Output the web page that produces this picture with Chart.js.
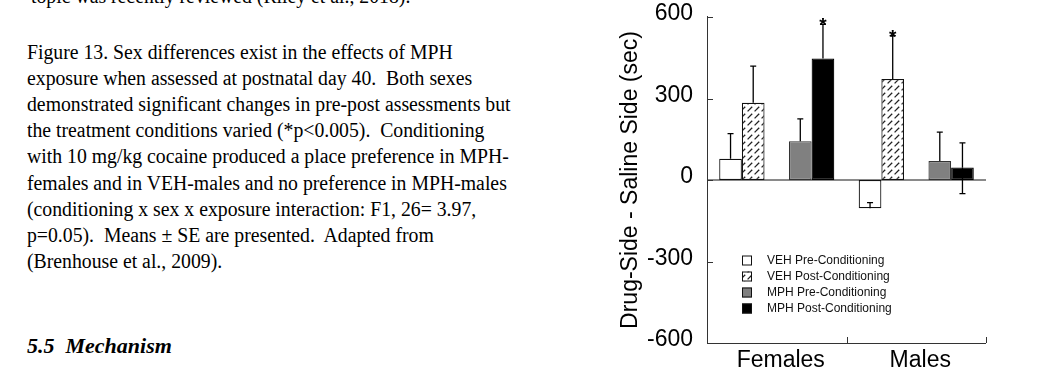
<!DOCTYPE html>
<html>
<head>
<meta charset="utf-8">
<script src="https://cdn.jsdelivr.net/npm/chart.js@4.4.1/dist/chart.umd.min.js"></script>
<style>
  html, body { margin: 0; padding: 0; background: #fff; }
  body { width: 1040px; height: 376px; position: relative; overflow: hidden; }
  .serif { font-family: "Liberation Serif", "Times New Roman", serif; color: #000; position: absolute; white-space: pre; transform-origin: 0 0; }
  #prev { left: 31px; top: -17px; font-size: 20px; line-height: 26.2px; transform: scaleX(0.987); }
  #caption { left: 27px; top: 38.5px; font-size: 20px; line-height: 26.2px; transform: scaleX(0.987); }
  #heading { left: 27px; top: 333px; font-size: 22px; font-weight: bold; font-style: italic; }
  #wrap { position: absolute; left: 600px; top: 0; width: 440px; height: 376px; }
</style>
</head>
<body>
<div class="serif" id="prev">topic was recently reviewed (Riley et al., 2018).</div>
<div class="serif" id="caption">Figure 13. Sex differences exist in the effects of MPH
exposure when assessed at postnatal day 40.  Both sexes
demonstrated significant changes in pre-post assessments but
the treatment conditions varied (*p&lt;0.005).  Conditioning
with 10 mg/kg cocaine produced a place preference in MPH-
females and in VEH-males and no preference in MPH-males
(conditioning x sex x exposure interaction: F1, 26= 3.97,
p=0.05).  Means ± SE are presented.  Adapted from
(Brenhouse et al., 2009).</div>
<div class="serif" id="heading">5.5<span style="margin-left:11px">Mechanism</span></div>
<div id="wrap"><canvas id="c" width="440" height="376"></canvas></div>
<script>
// ---- data ----
const groups = ['Females', 'Males'];
const subgroups = ['Females VEH', 'Females MPH', 'Males VEH', 'Males MPH'];
const seriesNames = ['VEH Pre-Conditioning', 'VEH Post-Conditioning', 'MPH Pre-Conditioning', 'MPH Post-Conditioning'];
const vehPre  = [78, null, -104, null];
const vehPost = [284, null, 372, null];
const mphPre  = [null, 143, null, 70];
const mphPost = [null, 447, null, 46];
const vehPreSE  = [93, null, 21, null];
const vehPostSE = [135, null, 159, null];
const mphPreSE  = [null, 82, null, 106];
const mphPostSE = [null, 126, null, 91];
const mphPostSELow = [null, null, null, 96];
const vehPostSig = [false, false, true, false];
const mphPostSig = [false, true, false, false];
const yTicks = [-600, -300, 0, 300, 600];

// ---- hatch pattern ----
function makeHatch() {
  const s = 7;
  const c = document.createElement('canvas');
  c.width = s; c.height = s;
  const g = c.getContext('2d');
  g.fillStyle = '#fff';
  g.fillRect(0, 0, s, s);
  g.strokeStyle = '#222';
  g.lineWidth = 1.3;
  g.beginPath();
  g.moveTo(0.6, s - 0.6);
  g.lineTo(s - 1.8, 1.8);
  g.stroke();
  return g.createPattern(c, 'repeat');
}
const hatch = makeHatch();

const fills = ['#ffffff', hatch, '#808080', '#000000'];
const borders = ['#111', '#111', '#333', '#000'];
const values = [vehPre, vehPost, mphPre, mphPost];
const seUp = [vehPreSE, vehPostSE, mphPreSE, mphPostSE];
const seDown = [null, null, null, mphPostSELow];
const sigs = [null, vehPostSig, null, mphPostSig];

const datasets = values.map((v, i) => ({
  label: seriesNames[i],
  data: v,
  backgroundColor: fills[i],
  borderColor: borders[i],
  borderWidth: 1.2,
  borderSkipped: false,
  skipNull: true,
  xAxisID: 'x',
  categoryPercentage: 0.65,
  barPercentage: 1.0
}));

const decorPlugin = {
  id: 'decor',
  beforeDatasetsDraw(chart) {
    const {ctx, chartArea: a, scales: {y}} = chart;
    ctx.save();
    ctx.strokeStyle = '#8a8a8a';
    ctx.lineWidth = 2;
    const y0 = y.getPixelForValue(0);
    ctx.beginPath();
    ctx.moveTo(a.left, y0);
    ctx.lineTo(a.right, y0);
    ctx.stroke();
    ctx.restore();
  },
  afterDatasetsDraw(chart) {
    const {ctx, chartArea: a, scales: {y, x2}} = chart;
    ctx.save();
    ctx.strokeStyle = '#000';
    ctx.lineWidth = 1.3;
    chart.data.datasets.forEach((ds, di) => {
      const meta = chart.getDatasetMeta(di);
      meta.data.forEach((el, j) => {
        const v = ds.data[j];
        if (v === null || v === undefined) return;
        const ends = [];
        if (seUp[di] && seUp[di][j] != null) ends.push(v + seUp[di][j]);
        if (seDown[di] && seDown[di][j] != null) ends.push(v - seDown[di][j]);
        ends.forEach(e => {
          const py = y.getPixelForValue(e);
          ctx.beginPath();
          ctx.moveTo(el.x, el.y);
          ctx.lineTo(el.x, py);
          ctx.moveTo(el.x - 3, py);
          ctx.lineTo(el.x + 3, py);
          ctx.stroke();
        });
        if (sigs[di] && sigs[di][j]) {
          const top = y.getPixelForValue(v + seUp[di][j]);
          ctx.fillStyle = '#000';
          ctx.font = 'bold 19px "Liberation Sans", Arial, sans-serif';
          ctx.textAlign = 'center';
          ctx.textBaseline = 'alphabetic';
          ctx.fillText('*', el.x, top + 7);
        }
      });
    });
    // axes
    ctx.strokeStyle = '#333';
    ctx.lineWidth = 1;
    ctx.beginPath();
    ctx.moveTo(a.left + 0.5, a.top - 1);
    ctx.lineTo(a.left + 0.5, a.bottom + 0.5);
    ctx.lineTo(a.right, a.bottom + 0.5);
    y.ticks.forEach(t => {
      const py = Math.round(y.getPixelForValue(t.value)) + 0.5;
      ctx.moveTo(a.left, py);
      ctx.lineTo(a.left + 6, py);
    });
    const n = x2.getLabels().length;
    for (let i = 0; i <= n; i++) {
      const px = Math.round(x2.getPixelForValue(i - 0.5)) + 0.5;
      ctx.moveTo(px, a.bottom);
      ctx.lineTo(px, a.bottom - 6);
    }
    ctx.stroke();
    // legend
    ctx.font = '12px "Liberation Sans", Arial, sans-serif';
    ctx.textAlign = 'left';
    ctx.textBaseline = 'middle';
    chart.data.datasets.forEach((ds, i) => {
      const cy = a.top + 243.5 + i * 16;
      const bx = a.left + 35;
      ctx.fillStyle = ds.backgroundColor;
      ctx.fillRect(bx, cy - 5, 10, 10);
      ctx.strokeStyle = '#111';
      ctx.lineWidth = 1;
      ctx.strokeRect(bx + 0.5, cy - 4.5, 9, 9);
      ctx.fillStyle = '#111';
      ctx.fillText(ds.label, a.left + 60, cy);
    });
    ctx.restore();
  }
};

new Chart(document.getElementById('c'), {
  type: 'bar',
  data: { labels: subgroups, datasets },
  plugins: [decorPlugin],
  options: {
    responsive: false,
    animation: false,
    devicePixelRatio: 1,
    layout: { padding: { left: 0, top: 17, right: 54, bottom: 0 } },
    plugins: { legend: { display: false }, tooltip: { enabled: false } },
    scales: {
      x: { type: 'category', display: false, offset: true },
      x2: {
        type: 'category', axis: 'x', position: 'bottom', labels: groups, offset: true,
        grid: { display: false, drawTicks: false }, border: { display: false },
        ticks: { color: '#000', padding: 4, labelOffset: 4, font: { family: '"Liberation Sans", Arial, sans-serif', size: 23 } },
        afterFit(s) { s.height = 33; s.paddingLeft = 0; s.paddingRight = 0; }
      },
      y: {
        min: -600, max: 600,
        afterBuildTicks(s) { s.ticks = yTicks.map(v => ({ value: v })); },
        grid: { display: false, drawTicks: false }, border: { display: false },
        ticks: { color: '#000', padding: 14, labelOffset: -3, font: { family: '"Liberation Sans", Arial, sans-serif', size: 23 } },
        title: { display: true, text: 'Drug-Side - Saline Side (sec)', color: '#000', padding: { top: 17, bottom: 0 },
                 font: { family: '"Liberation Sans", Arial, sans-serif', size: 23 } },
        afterFit(s) { s.width = 107; s.paddingTop = 0; s.paddingBottom = 0; }
      }
    }
  }
});
</script>
</body>
</html>
